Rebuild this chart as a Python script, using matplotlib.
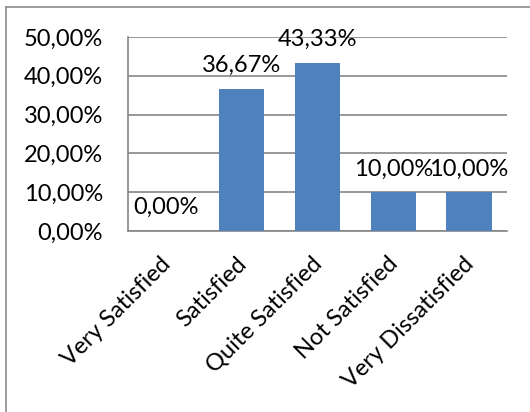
import matplotlib.pyplot as plt
import matplotlib.transforms as mtransforms
from matplotlib.lines import Line2D

categories = ["Very Satisfied", "Satisfied", "Quite Satisfied",
              "Not Satisfied", "Very Dissatisfied"]
shares = [0.00, 36.67, 43.33, 10.00, 10.00]
y_ticks = [0, 10, 20, 30, 40, 50]

plt.rcParams["font.family"] = ["Lato", "DejaVu Sans"]
FS = 17

fig = plt.figure(figsize=(5.30, 4.12), dpi=100)
ax = fig.add_axes([128 / 530, 1 - 231 / 412, (507 - 128) / 530, (231 - 37) / 412])

x = range(len(categories))
ax.bar(x, shares, width=0.6, color="#4F81BD", zorder=3)

for xi, v in zip(x, shares):
    ax.annotate(f"{v:.2f}%".replace(".", ","), (xi, v), xytext=(0, 12),
                textcoords="offset points", ha="center", va="baseline",
                fontsize=FS, color="black", zorder=4)

ax.set_xlim(-0.5, len(categories) - 0.5)
ax.set_ylim(0, 50)
ax.set_yticks(y_ticks)
ax.set_yticklabels([f"{t:.2f}%".replace(".", ",") for t in y_ticks], fontsize=FS)
ax.tick_params(axis="y", length=0, pad=18)
ax.yaxis.grid(True, color="#868686", linewidth=1.2, zorder=0)

ax.set_xticks(list(x))
ax.set_xticklabels(categories, rotation=45, ha="right", va="top",
                   rotation_mode="anchor", fontsize=FS)
ax.tick_params(axis="x", length=0, pad=16)
# nudge the slanted labels a little to the left
shift = mtransforms.ScaledTranslation(-6 / 100, 0, fig.dpi_scale_trans)
for lbl in ax.get_xticklabels():
    lbl.set_transform(lbl.get_transform() + shift)

for side in ("top", "right"):
    ax.spines[side].set_visible(False)
for side in ("left", "bottom"):
    ax.spines[side].set_color("#868686")
    ax.spines[side].set_linewidth(1.2)

# outer chart frame
fig.add_artist(Line2D([6 / 530, 6 / 530], [0, 1 - 7 / 412], color="#8c8c8c", lw=1.2))
fig.add_artist(Line2D([6 / 530, 1], [1 - 7 / 412, 1 - 7 / 412], color="#8c8c8c", lw=1.2))

fig.savefig("out.png", dpi=100)
